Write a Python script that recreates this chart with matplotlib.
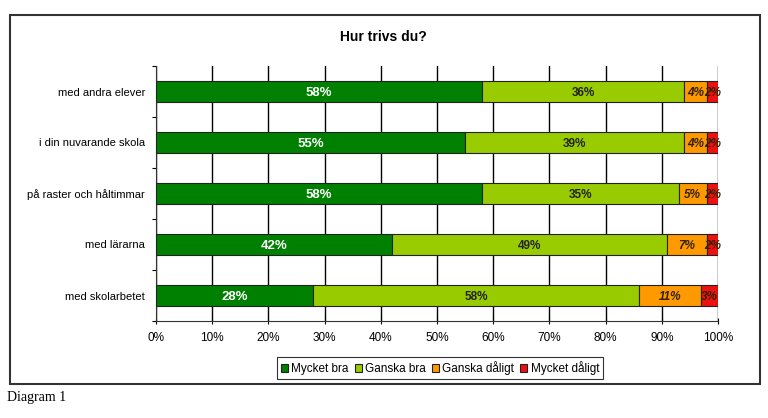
import numpy as np
import matplotlib.pyplot as plt
from matplotlib.patches import Rectangle

# survey answers, top row first
categories = ["med andra elever", "i din nuvarande skola", "på raster och håltimmar",
              "med lärarna", "med skolarbetet"]
mycket_bra = [58, 55, 58, 42, 28]
ganska_bra = [36, 39, 35, 49, 58]
ganska_daligt = [4, 4, 5, 7, 11]
mycket_daligt = [2, 2, 2, 2, 3]

series = [mycket_bra, ganska_bra, ganska_daligt, mycket_daligt]
names = ["Mycket bra", "Ganska bra", "Ganska dåligt", "Mycket dåligt"]
colors = ["#008000", "#99cc00", "#ff9900", "#ee1111"]

plt.rcParams['font.family'] = ['Liberation Sans', 'DejaVu Sans']

fig = plt.figure(figsize=(7.68, 4.18), dpi=100)
ax = fig.add_axes([156/768, 1-321/418, 562/768, 255/418])

y = np.arange(len(categories))
left = np.zeros(len(categories))
for i, (vals, name, col) in enumerate(zip(series, names, colors)):
    vals = np.array(vals)
    bars = ax.barh(y, vals, left=left, height=0.4, color=col, edgecolor='#222222',
                   linewidth=0.8, label=name, zorder=3)
    for b, v, l in zip(bars, vals, left):
        cx = l + v / 2
        cy = b.get_y() + b.get_height()/2
        if i == 0:
            ax.text(cx, cy, f"{v}%", color='white', fontsize=9.5,
                    fontweight='bold', ha='center', va='center_baseline', zorder=4)
        elif i == 1:
            ax.text(cx, cy, f"{v}%", color='#222222', fontsize=8.5,
                    fontweight='bold', ha='center', va='center_baseline', zorder=4)
        else:
            ax.text(cx, cy, f"{v}%", color='#332200', fontsize=8.5,
                    fontweight='bold', style='italic',
                    ha='center', va='center_baseline', zorder=4)
    left = left + vals

ax.set_xlim(0, 100)
ax.set_ylim(len(categories) - 0.5, -0.5)
ax.set_xticks(np.arange(0, 101, 10))
ax.set_xticklabels([f"{t}%" for t in range(0, 101, 10)], fontsize=8.5)
# ticks between categories, labels at centres
ax.set_yticks(np.arange(len(categories) + 1) - 0.5)
ax.set_yticklabels([])
ax.set_yticks(y, minor=True)
ax.set_yticklabels(categories, minor=True, fontsize=8)
ax.tick_params(axis='y', which='major', length=3, direction='out')
ax.tick_params(axis='y', which='minor', length=0, pad=8)
ax.tick_params(axis='x', length=4, direction='inout', pad=6)
ax.xaxis.grid(True, color='black', linewidth=1.0, zorder=0)
ax.set_axisbelow(True)
for s in ['top', 'right']:
    ax.spines[s].set_visible(False)
ax.spines['left'].set_color('#333333')
ax.spines['bottom'].set_color('#333333')

fig.text(383/768, 1-37/418, "Hur trivs du?", ha='center', va='center',
         fontsize=10, fontweight='bold')

leg = fig.legend(loc='center', bbox_to_anchor=(440/768, 1-368/418), ncol=4,
                 fontsize=8.5, frameon=True, fancybox=False, handlelength=0.6,
                 handleheight=0.6, handletextpad=0.3, columnspacing=0.5,
                 borderpad=0.35, edgecolor='black')
leg.get_frame().set_linewidth(0.8)

fig.patches.append(Rectangle((10/768, 1-384/418), 750/768, 369/418,
                             transform=fig.transFigure, fill=False,
                             edgecolor='#333333', linewidth=1.5))

fig.text(7/768, 1-398/418, "Diagram 1", ha='left', va='center', fontsize=10,
         family=['Liberation Serif', 'DejaVu Serif'])

fig.savefig("out.png", dpi=100)
